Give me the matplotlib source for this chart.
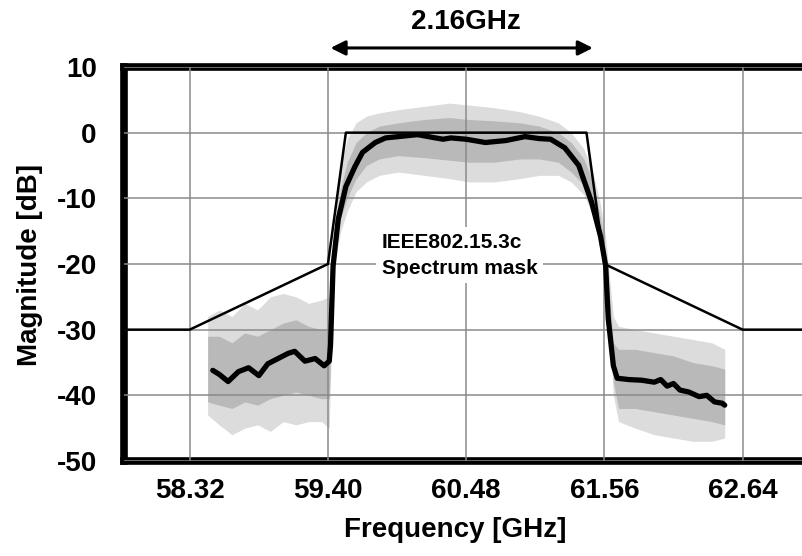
import matplotlib
matplotlib.use("Agg")
import matplotlib.pyplot as plt

plt.rcParams['font.family'] = ['Liberation Sans', 'DejaVu Sans']
plt.rcParams['font.weight'] = 'bold'
plt.rcParams['axes.unicode_minus'] = False

# ---------------- data ----------------
x_ticks = [58.32, 59.40, 60.48, 61.56, 62.64]
x_tick_labels = ["58.32", "59.40", "60.48", "61.56", "62.64"]
y_ticks = [10, 0, -10, -20, -30, -40, -50]

# IEEE802.15.3c spectrum mask
mask_freq = [57.70, 58.32, 59.40, 59.54, 61.42, 61.56, 62.64, 63.40]
mask_db = [-30, -30, -20, 0, 0, -20, -30, -30]

# averaged (black) trace
mean_freq = [58.50, 58.55, 58.62, 58.70, 58.78, 58.86, 58.93, 59.01, 59.09, 59.14,
             59.22, 59.30, 59.37, 59.41, 59.42, 59.44, 59.48, 59.54, 59.61, 59.67,
             59.77, 59.85, 60.00, 60.10, 60.24, 60.30, 60.36, 60.48, 60.63, 60.79,
             60.94, 61.05, 61.14, 61.25, 61.36, 61.46, 61.53, 61.57, 61.59, 61.63,
             61.66, 61.75, 61.85, 61.95, 62.00, 62.05, 62.10, 62.15, 62.22, 62.30,
             62.36, 62.42, 62.48, 62.50]
mean_db = [-36.2, -36.8, -37.9, -36.4, -35.8, -37.0, -35.2, -34.4, -33.6, -33.3,
           -34.8, -34.4, -35.5, -34.8, -32.4, -20.3, -13.2, -8.2, -5.2, -3.0,
           -1.5, -0.8, -0.5, -0.3, -0.8, -1.0, -0.8, -1.0, -1.5, -1.2,
           -0.6, -0.9, -1.0, -2.3, -5.0, -10.6, -15.8, -20.3, -28.3, -35.5,
           -37.4, -37.6, -37.7, -38.0, -37.6, -38.6, -38.2, -39.2, -39.5, -40.2,
           -40.0, -41.0, -41.2, -41.5]

# envelope of the raw (grey) spectrum
env_freq = [58.46, 58.55, 58.65, 58.75, 58.85, 58.95, 59.05, 59.15, 59.25, 59.35,
            59.41, 59.44, 59.47, 59.50, 59.55, 59.62, 59.70, 59.80, 59.95, 60.15,
            60.35, 60.50, 60.70, 60.90, 61.05, 61.20, 61.30, 61.40, 61.47, 61.53,
            61.57, 61.60, 61.63, 61.67, 61.80, 61.95, 62.10, 62.25, 62.40, 62.50]
env_hi_outer = [-28, -27, -28, -26, -27, -25, -24.5, -25, -26, -25.5,
                -25, -17, -10, -5, -1, 1.5, 2.5, 3, 3.5, 4,
                4.5, 4.2, 3.8, 3.2, 2.5, 1.5, 0, -2.5, -6, -11,
                -16, -22, -28, -29.5, -30, -30.5, -31, -31.5, -32, -33]
env_hi_inner = [-31, -31, -32, -30.5, -31, -30, -29, -28.5, -29.5, -30,
                -30, -18.5, -12.5, -8.5, -4.5, -1.5, 0, 1, 1.5, 2,
                2.3, 2, 1.8, 1.5, 1, 0, -1.5, -4, -7.5, -13,
                -18.5, -25, -32, -33, -33, -33.5, -34, -35, -35.5, -36]
env_lo_inner = [-41, -41.5, -42, -41, -41.5, -40.5, -40, -39.5, -40, -40.5,
                -40.5, -21.5, -16.5, -13, -10, -7, -5, -4, -3.5, -3.8,
                -4.2, -4.5, -4.5, -4, -4, -4.5, -6, -8, -11, -17,
                -22, -29, -38, -42, -42, -42.5, -43, -43.5, -44, -44.5]
env_lo_outer = [-43, -44.5, -46, -45, -44.5, -45.5, -44, -44.5, -44, -44,
                -45, -23, -18, -15, -12, -9, -7.5, -6.5, -6, -6.5,
                -7, -7.5, -7.5, -7, -6.5, -6.5, -7.5, -9.5, -12.5, -18,
                -23, -30, -40, -44, -45, -46, -46.5, -47, -47, -46.5]

arrow_start, arrow_end = 59.42, 61.47
bw_label = "2.16GHz"
mask_label = "IEEE802.15.3c\nSpectrum mask"

# ---------------- figure ----------------
fig = plt.figure(figsize=(8.03, 5.56), dpi=100)
ax = fig.add_axes([0.155, 0.1709, 0.875, 0.7086])
ax.set_xlim(57.81, 63.30)
ax.set_ylim(-50, 10)

ax.fill_between(env_freq, env_lo_outer, env_hi_outer, color='#dcdcdc', lw=0, zorder=2)
ax.fill_between(env_freq, env_lo_inner, env_hi_inner, color='#b9b9b9', lw=0, zorder=2)
ax.plot(mask_freq, mask_db, color='black', lw=1.8, zorder=4)
ax.plot(mean_freq, mean_db, color='black', lw=3.8, zorder=5,
        solid_joinstyle='round', solid_capstyle='round')

ax.set_xticks(x_ticks)
ax.set_xticklabels(x_tick_labels)
ax.set_yticks(y_ticks)
ax.grid(True, color='#8a8a8a', lw=1.1, zorder=3)
ax.set_axisbelow(False)
for gl in ax.get_xgridlines() + ax.get_ygridlines():
    gl.set_zorder(3)
ax.tick_params(length=0, labelsize=20)
ax.tick_params(axis='x', pad=12)
ax.tick_params(axis='y', pad=20)
for lab in ax.get_xticklabels() + ax.get_yticklabels():
    lab.set_fontweight('bold')

for s in ['left', 'bottom', 'top']:
    ax.spines[s].set_linewidth(5.5)
ax.spines['right'].set_visible(False)

ax.text(60.43, -18.7, mask_label, ha='center', va='center', multialignment='left',
        fontsize=15, fontweight='bold', zorder=6, linespacing=1.45,
        bbox=dict(facecolor='white', edgecolor='none', pad=4))

ax.annotate('', xy=(arrow_end, 12.9), xytext=(arrow_start, 12.9), xycoords='data',
            annotation_clip=False,
            arrowprops=dict(arrowstyle='<|-|>', color='black', lw=2.2,
                            mutation_scale=22, shrinkA=0, shrinkB=0))
ax.text(60.48, 16.9, bw_label, ha='center', va='center', fontsize=20,
        fontweight='bold', clip_on=False)

fig.text(0.567, 0.047, "Frequency [GHz]", ha='center', va='center',
         fontsize=20, fontweight='bold')
fig.text(0.037, 0.523, "Magnitude [dB]", ha='center', va='center',
         rotation=90, fontsize=20, fontweight='bold')

fig.savefig("out.png", dpi=100)
